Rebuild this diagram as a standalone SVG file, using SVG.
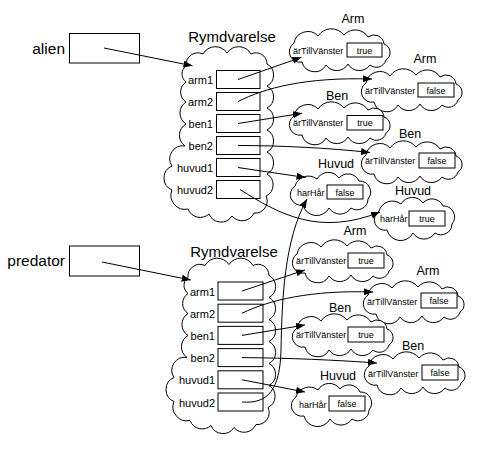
<svg xmlns="http://www.w3.org/2000/svg" width="500" height="468" viewBox="0 0 500 468">
<style>
text{font-family:"Liberation Sans",Arial,sans-serif;fill:#000}
.cloud{fill:#fff;stroke:#000;stroke-width:1}
.box{fill:#fff;stroke:#000;stroke-width:1}
.big{font-size:15.5px;text-anchor:end}
.title{font-size:15px;text-anchor:middle}
.ct{font-size:12.5px;text-anchor:middle}
.lab{font-size:11px;text-anchor:end}
.f{font-size:9px}
.v{font-size:9px;text-anchor:middle}
.conn{fill:none;stroke:#000;stroke-width:1;marker-end:url(#ah)}
</style>
<defs>
<marker id="ah" markerUnits="userSpaceOnUse" markerWidth="10" markerHeight="8" refX="9" refY="3.5" orient="auto"><path d="M0,0 L9,3.5 L0,7 Z" fill="#000"/></marker>
<path id="cA" d="M4,14 A14,14 0 0,1 28,7 A16,16 0 0,1 54,6 A15,15 0 0,1 78,8 A10,10 0 0,1 94,15 A9,9 0 0,1 96,31 A10,10 0 0,1 80,36 A13,13 0 0,1 58,35 A13,13 0 0,1 36,36 A13,13 0 0,1 12,33 A10.5,10.5 0 0,1 4,14 Z"/>
<path id="cH" d="M4,14 A14,14 0 0,1 26,7 A13,13 0 0,1 48,6 A12,12 0 0,1 68,9 A11,11 0 0,1 77,27 A11,11 0 0,1 60,36 A13,13 0 0,1 38,36 A14,14 0 0,1 12,33 A10.5,10.5 0 0,1 4,14 Z"/>
<path id="cR" d="M186,66 A12,12 0 0,1 203,54 A14,14 0 0,1 227,53 A14,14 0 0,1 251,54 A11,11 0 0,1 267,64 A12.5,12.5 0 0,1 267,86 A12.5,12.5 0 0,1 267,108 A12.5,12.5 0 0,1 267,130 A12.5,12.5 0 0,1 267,152 A12.5,12.5 0 0,1 267,174 A12.5,12.5 0 0,1 266,196 A12,12 0 0,1 254,213 A13,13 0 0,1 232,216 A13,13 0 0,1 209,214 A13,13 0 0,1 188,209 A14,14 0 0,1 172,190 A13,13 0 0,1 172,166 A13,13 0 0,1 185,146 A13,13 0 0,1 186,124 A13,13 0 0,1 186,102 A12,12 0 0,1 186,82 A10,10 0 0,1 186,66 Z"/>
</defs>

<g id="alien">
<text class="big" x="65" y="53.5">alien</text>
<rect class="box" x="69.5" y="33.5" width="70" height="29.5"/>
</g>

<g id="predator">
<text class="big" x="65" y="266">predator</text>
<rect class="box" x="69.5" y="246" width="70" height="30"/>
</g>

<g id="rymdvarelse1">
<use href="#cR" class="cloud"/>
<text class="title" x="232" y="42">Rymdvarelse</text>
<text class="lab" x="213" y="84">arm1</text>
<text class="lab" x="213" y="106">arm2</text>
<text class="lab" x="213" y="128">ben1</text>
<text class="lab" x="213" y="150">ben2</text>
<text class="lab" x="213" y="172">huvud1</text>
<text class="lab" x="213" y="194">huvud2</text>
<rect class="box" x="216.5" y="70.5" width="43.5" height="18"/>
<rect class="box" x="216.5" y="92.5" width="43.5" height="18"/>
<rect class="box" x="216.5" y="114.5" width="43.5" height="18"/>
<rect class="box" x="216.5" y="136.5" width="43.5" height="18"/>
<rect class="box" x="216.5" y="158.5" width="43.5" height="18"/>
<rect class="box" x="216.5" y="180.5" width="43.5" height="18"/>
</g>

<g id="rymdvarelse2">
<use href="#cR" class="cloud" transform="translate(2,211.5)"/>
<text class="title" x="234" y="257">Rymdvarelse</text>
<text class="lab" x="215" y="295.5">arm1</text>
<text class="lab" x="215" y="317.7">arm2</text>
<text class="lab" x="215" y="339.9">ben1</text>
<text class="lab" x="215" y="362.1">ben2</text>
<text class="lab" x="215" y="384.3">huvud1</text>
<text class="lab" x="215" y="406.5">huvud2</text>
<rect class="box" x="218" y="282" width="45" height="18"/>
<rect class="box" x="218" y="304.2" width="45" height="18"/>
<rect class="box" x="218" y="326.4" width="45" height="18"/>
<rect class="box" x="218" y="348.6" width="45" height="18"/>
<rect class="box" x="218" y="370.8" width="45" height="18"/>
<rect class="box" x="218" y="393" width="45" height="18"/>
</g>

<g id="arm1a">
<use href="#cA" class="cloud" transform="translate(290,29)"/>
<text class="ct" x="353" y="23">Arm</text>
<text class="f" x="293" y="53.5">ärTillVänster</text>
<rect class="box" x="347" y="43" width="35" height="14"/>
<text class="v" x="364.5" y="53.5">true</text>
</g>

<g id="arm2a">
<use href="#cA" class="cloud" transform="translate(362,69)"/>
<text class="ct" x="425" y="63">Arm</text>
<text class="f" x="365" y="93.5">ärTillVänster</text>
<rect class="box" x="418" y="83" width="36" height="14"/>
<text class="v" x="436" y="93.5">false</text>
</g>

<g id="ben1a">
<use href="#cA" class="cloud" transform="translate(290,102)"/>
<text class="ct" x="337" y="100">Ben</text>
<text class="f" x="293" y="126">ärTillVänster</text>
<rect class="box" x="347" y="115.5" width="36" height="14.5"/>
<text class="v" x="365" y="126">true</text>
</g>

<g id="ben2a">
<use href="#cA" class="cloud" transform="translate(362,141)"/>
<text class="ct" x="410" y="138">Ben</text>
<text class="f" x="365" y="164">ärTillVänster</text>
<rect class="box" x="419" y="153" width="36" height="15"/>
<text class="v" x="437" y="164">false</text>
</g>

<g id="huvud1a">
<use href="#cH" class="cloud" transform="translate(291,172)"/>
<text class="ct" x="336" y="168">Huvud</text>
<text class="f" x="297" y="195.5">harHår</text>
<rect class="box" x="327" y="185" width="36" height="14"/>
<text class="v" x="345" y="195.5">false</text>
</g>

<g id="huvud2a">
<use href="#cH" class="cloud" transform="translate(375,197)"/>
<text class="ct" x="413" y="195">Huvud</text>
<text class="f" x="380" y="222">harHår</text>
<rect class="box" x="409" y="211" width="36" height="15"/>
<text class="v" x="427" y="222">true</text>
</g>

<g id="arm1b">
<use href="#cA" class="cloud" transform="translate(293,240)"/>
<text class="ct" x="355" y="235">Arm</text>
<text class="f" x="296" y="264">ärTillVänster</text>
<rect class="box" x="348" y="253" width="36" height="15"/>
<text class="v" x="366" y="264">true</text>
</g>

<g id="arm2b">
<use href="#cA" class="cloud" transform="translate(364,281)"/>
<text class="ct" x="428" y="275">Arm</text>
<text class="f" x="367" y="305">ärTillVänster</text>
<rect class="box" x="421" y="293" width="36" height="15"/>
<text class="v" x="439" y="304">false</text>
</g>

<g id="ben1b">
<use href="#cA" class="cloud" transform="translate(293,314)"/>
<text class="ct" x="340" y="312">Ben</text>
<text class="f" x="296" y="338">ärTillVänster</text>
<rect class="box" x="348" y="327" width="36" height="15"/>
<text class="v" x="366" y="338">true</text>
</g>

<g id="ben2b">
<use href="#cA" class="cloud" transform="translate(365,352)"/>
<text class="ct" x="413" y="350">Ben</text>
<text class="f" x="368" y="376.5">ärTillVänster</text>
<rect class="box" x="422" y="365" width="36" height="15"/>
<text class="v" x="440" y="376">false</text>
</g>

<g id="huvud1b">
<use href="#cH" class="cloud" transform="translate(292,383)"/>
<text class="ct" x="338" y="380">Huvud</text>
<text class="f" x="299" y="407.5">harHår</text>
<rect class="box" x="329" y="396" width="36" height="15"/>
<text class="v" x="347" y="407">false</text>
</g>

<g id="connectors">
<path class="conn" d="M104,48 L192.5,65.8"/>
<path class="conn" d="M238,79.5 L301.5,57.3"/>
<path class="conn" d="M238,101.5 C265,88 305,77 372,79"/>
<path class="conn" d="M238,123.5 L302,113.3"/>
<path class="conn" d="M238,145.5 C280,145.5 330,148 370,152.5"/>
<path class="conn" d="M238,167.5 L305.5,177.5"/>
<path class="conn" d="M240,189.5 C280,215 320,236 380,212"/>
<path class="conn" d="M102,262 L190.7,280"/>
<path class="conn" d="M242,291 L305,270"/>
<path class="conn" d="M242,313.2 C270,300 310,290 373,292"/>
<path class="conn" d="M242,335.4 L305,325"/>
<path class="conn" d="M242,357.6 C290,358 335,360 377,363"/>
<path class="conn" d="M242,379.8 L305,392"/>
<path class="conn" d="M242,402 C268,404 280,390 281,350 C282,300 284,240 307,199"/>
</g>
</svg>
